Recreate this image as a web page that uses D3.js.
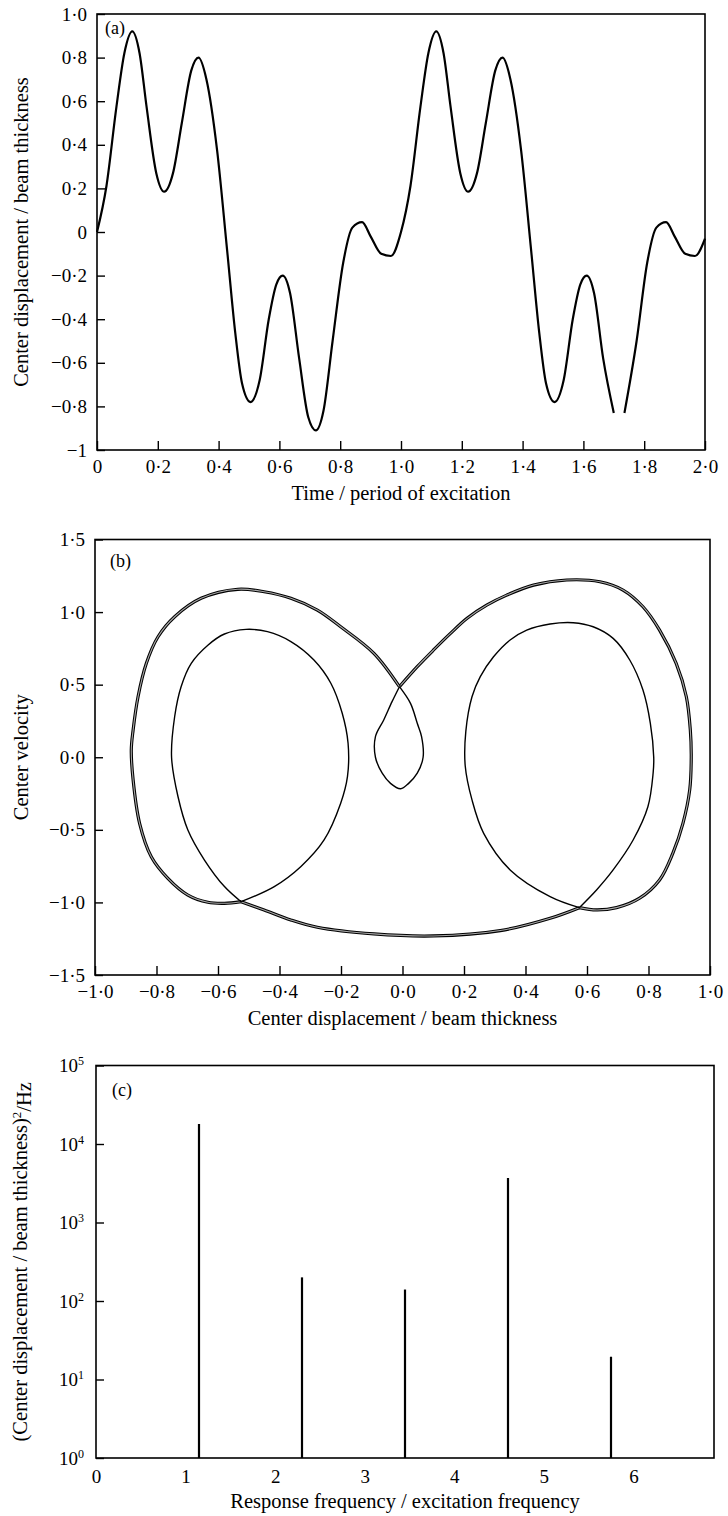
<!DOCTYPE html>
<html>
<head>
<meta charset="utf-8">
<script src="https://cdn.jsdelivr.net/npm/d3@7"></script>
<style>
  body { margin: 0; background: #fff; }
  svg { display: block; }
  text { font-family: "Liberation Serif", "Times New Roman", serif; fill: #000; }
</style>
</head>
<body>
<svg id="fig" width="728" height="1516"></svg>
<script>
// ---------- (a) centre displacement time history (two drawn pieces) ----------
const timeA1 = [0.000, 0.031, 0.064, 0.090, 0.116, 0.140, 0.163, 0.195, 0.221, 0.250, 0.279, 0.310, 0.334, 0.360, 0.395, 0.428, 0.455, 0.477, 0.505, 0.535, 0.565, 0.590, 0.611, 0.635, 0.665, 0.695, 0.720, 0.745, 0.775, 0.810, 0.840, 0.872, 0.900, 0.935, 0.967, 1.000,
                1.031, 1.064, 1.090, 1.116, 1.140, 1.163, 1.195, 1.221, 1.250, 1.279, 1.310, 1.334, 1.360, 1.395, 1.428, 1.455, 1.477, 1.505, 1.535, 1.565, 1.590, 1.611, 1.635, 1.665, 1.700];
const dispA1 = [0.00, 0.21, 0.575, 0.82, 0.92, 0.82, 0.575, 0.27, 0.185, 0.27, 0.50, 0.74, 0.80, 0.70, 0.376, -0.083, -0.465, -0.694, -0.78, -0.68, -0.40, -0.24, -0.20, -0.28, -0.58, -0.85, -0.91, -0.82, -0.50, -0.14, 0.02, 0.045, -0.02, -0.10, -0.11, 0.00,
                0.21, 0.575, 0.82, 0.92, 0.82, 0.575, 0.27, 0.185, 0.27, 0.50, 0.74, 0.80, 0.70, 0.376, -0.083, -0.465, -0.694, -0.78, -0.68, -0.40, -0.24, -0.20, -0.28, -0.58, -0.83];
const timeA2 = [1.735, 1.775, 1.810, 1.840, 1.872, 1.900, 1.935, 1.967, 2.000];
const dispA2 = [-0.83, -0.50, -0.14, 0.02, 0.045, -0.02, -0.10, -0.11, -0.03];

const xTicksA = [0, 0.2, 0.4, 0.6, 0.8, 1.0, 1.2, 1.4, 1.6, 1.8, 2.0];
const xLabelsA = ["0", "0·2", "0·4", "0·6", "0·8", "1·0", "1·2", "1·4", "1·6", "1·8", "2·0"];
const yTicksA = [1.0, 0.8, 0.6, 0.4, 0.2, 0, -0.2, -0.4, -0.6, -0.8, -1];
const yLabelsA = ["1·0", "0·8", "0·6", "0·4", "0·2", "0", "−0·2", "−0·4", "−0·6", "−0·8", "−1"];

// ---------- (b) phase plane: velocity against displacement ----------
const phaseOuterRight = [[-0.01,0.486],[0.048,0.624],[0.101,0.739],[0.156,0.853],[0.21,0.957],[0.275,1.049],[0.339,1.117],[0.426,1.186],[0.534,1.221],[0.642,1.209],[0.717,1.152],[0.782,1.037],[0.836,0.876],[0.89,0.647],[0.923,0.417],[0.936,0.188],[0.939,0.0],[0.934,-0.225],[0.912,-0.455],[0.879,-0.662],[0.836,-0.845],[0.771,-0.971],[0.696,-1.036],[0.631,-1.052],[0.575,-1.036]];
const phaseInnerRight = [[0.575,-1.036],[0.48,-0.96],[0.35,-0.776],[0.264,-0.524],[0.226,-0.294],[0.204,-0.06],[0.206,0.18],[0.226,0.417],[0.253,0.555],[0.296,0.692],[0.35,0.808],[0.404,0.876],[0.48,0.918],[0.555,0.927],[0.62,0.899],[0.685,0.819],[0.739,0.67],[0.782,0.463],[0.806,0.234],[0.817,0.0],[0.815,-0.11],[0.798,-0.341],[0.75,-0.57],[0.685,-0.776],[0.631,-0.914],[0.575,-1.036]];
const phaseOuterBottom = [[0.575,-1.036],[0.48,-1.109],[0.318,-1.194],[0.101,-1.231],[-0.093,-1.217],[-0.277,-1.171],[-0.363,-1.121],[-0.45,-1.052],[-0.525,-0.995]];
const phaseInnerLeft = [[-0.525,-0.995],[-0.579,-0.891],[-0.644,-0.708],[-0.698,-0.501],[-0.73,-0.272],[-0.751,0.0],[-0.741,0.279],[-0.72,0.486],[-0.687,0.647],[-0.633,0.772],[-0.579,0.849],[-0.509,0.881],[-0.439,0.865],[-0.363,0.797],[-0.288,0.67],[-0.233,0.51],[-0.196,0.303],[-0.177,0.096],[-0.179,-0.134],[-0.201,-0.317],[-0.255,-0.57],[-0.331,-0.754],[-0.417,-0.891],[-0.525,-0.995]];
const phaseOuterLeft = [[-0.525,-0.995],[-0.579,-1.006],[-0.633,-0.999],[-0.698,-0.949],[-0.763,-0.834],[-0.817,-0.685],[-0.855,-0.455],[-0.876,-0.157],[-0.882,0.05],[-0.876,0.188],[-0.86,0.417],[-0.833,0.647],[-0.795,0.83],[-0.741,0.968],[-0.655,1.095],[-0.536,1.157],[-0.45,1.14],[-0.363,1.095],[-0.277,1.014],[-0.201,0.899],[-0.093,0.716],[-0.01,0.486]];
const phaseCentreLoop = [[-0.01,0.486],[0.026,0.371],[0.048,0.234],[0.062,0.142],[0.067,0.0],[0.048,-0.11],[0.02,-0.18],[-0.006,-0.217],[-0.039,-0.18],[-0.066,-0.11],[-0.088,0.0],[-0.088,0.142],[-0.061,0.257],[-0.034,0.383],[-0.01,0.486]];

const xTicksB = [-1.0, -0.8, -0.6, -0.4, -0.2, 0.0, 0.2, 0.4, 0.6, 0.8, 1.0];
const xLabelsB = ["−1·0", "−0·8", "−0·6", "−0·4", "−0·2", "0·0", "0·2", "0·4", "0·6", "0·8", "1·0"];
const yTicksB = [1.5, 1.0, 0.5, 0.0, -0.5, -1.0, -1.5];
const yLabelsB = ["1·5", "1·0", "0·5", "0·0", "−0·5", "−1·0", "−1·5"];

// ---------- (c) response spectrum ----------
const specFreq = [1.15, 2.30, 3.45, 4.60, 5.75];
const specPower = [18000, 200, 140, 3700, 19.5];
const xTicksC = [0, 1, 2, 3, 4, 5, 6];
const yTicksC = [1, 10, 100, 1000, 10000, 100000];
const yExpC = ["0", "1", "2", "3", "4", "5"];

const svg = d3.select("#fig");
const FS = 19;      // tick labels
const FT = 20.5;    // axis titles

function frame(g, x0, x1, y0, y1) {
  g.append("rect").attr("x", x0).attr("y", y0).attr("width", x1 - x0).attr("height", y1 - y0)
    .attr("fill", "none").attr("stroke", "#000").attr("stroke-width", 1.6);
}
function styleAxis(sel) {
  sel.select(".domain").remove();
  sel.selectAll(".tick line").attr("stroke", "#000").attr("stroke-width", 1.4);
  sel.selectAll(".tick text").attr("font-size", FS).attr("fill", "#000")
     .attr("font-family", "Liberation Serif, Times New Roman, serif");
}

// ===== panel (a) =====
{
  const L = 97, R = 705, T = 14, B = 450;
  const x = d3.scaleLinear().domain([0, 2]).range([L, R]);
  const y = d3.scaleLinear().domain([-1, 1]).range([B, T]);
  const g = svg.append("g");
  frame(g, L, R, T, B);
  g.append("g").attr("transform", `translate(0,${B})`)
    .call(d3.axisBottom(x).tickValues(xTicksA).tickFormat((d, i) => xLabelsA[i]).tickSizeInner(-9).tickSizeOuter(0).tickPadding(10))
    .call(styleAxis);
  g.append("g").attr("transform", `translate(${L},0)`)
    .call(d3.axisLeft(y).tickValues(yTicksA).tickFormat((d, i) => yLabelsA[i]).tickSizeInner(-8).tickSizeOuter(0).tickPadding(10))
    .call(styleAxis);
  const line = d3.line().x(d => x(d[0])).y(d => y(d[1])).curve(d3.curveMonotoneX);
  [[timeA1, dispA1], [timeA2, dispA2]].forEach(([t, v]) => {
    g.append("path").datum(t.map((d, i) => [d, v[i]]))
      .attr("d", line).attr("fill", "none").attr("stroke", "#000").attr("stroke-width", 2.2)
      .attr("stroke-linejoin", "round");
  });
  g.append("text").attr("x", 105).attr("y", 34).attr("font-size", 18).text("(a)");
  g.append("text").attr("x", (L + R) / 2).attr("y", 500).attr("text-anchor", "middle").attr("font-size", FT)
    .text("Time / period of excitation");
  g.append("text").attr("transform", `translate(28,${(T + B) / 2}) rotate(-90)`).attr("text-anchor", "middle")
    .attr("font-size", FT).text("Center displacement / beam thickness");
}

// ===== panel (b) =====
{
  const L = 95, R = 710, T = 539.5, B = 975;
  const x = d3.scaleLinear().domain([-1, 1]).range([L, R]);
  const y = d3.scaleLinear().domain([-1.5, 1.5]).range([B, T]);
  const g = svg.append("g");
  frame(g, L, R, T, B);
  g.append("g").attr("transform", `translate(0,${B})`)
    .call(d3.axisBottom(x).tickValues(xTicksB).tickFormat((d, i) => xLabelsB[i]).tickSizeInner(-9).tickSizeOuter(0).tickPadding(10))
    .call(styleAxis);
  g.append("g").attr("transform", `translate(${L},0)`)
    .call(d3.axisLeft(y).tickValues(yTicksB).tickFormat((d, i) => yLabelsB[i]).tickSizeInner(-8).tickSizeOuter(0).tickPadding(10))
    .call(styleAxis);
  const line = d3.line().x(d => x(d[0])).y(d => y(d[1])).curve(d3.curveCatmullRom.alpha(0.5));
  // outer orbit: slightly spread bundle of cycles -> dark edges with a grey core
  [phaseOuterRight, phaseOuterBottom, phaseOuterLeft].forEach(seg => {
    g.append("path").datum(seg).attr("d", line).attr("fill", "none").attr("stroke", "#000").attr("stroke-width", 3.2);
    g.append("path").datum(seg).attr("d", line).attr("fill", "none").attr("stroke", "#a8a8a8").attr("stroke-width", 1.1);
  });
  [phaseInnerRight, phaseInnerLeft, phaseCentreLoop].forEach(seg => {
    g.append("path").datum(seg).attr("d", line).attr("fill", "none").attr("stroke", "#000").attr("stroke-width", 1.4);
  });
  g.append("text").attr("x", 110).attr("y", 567).attr("font-size", 18).text("(b)");
  g.append("text").attr("x", (L + R) / 2).attr("y", 1025).attr("text-anchor", "middle").attr("font-size", FT)
    .text("Center displacement / beam thickness");
  g.append("text").attr("transform", `translate(28,${(T + B) / 2}) rotate(-90)`).attr("text-anchor", "middle")
    .attr("font-size", FT).text("Center velocity");
}

// ===== panel (c) =====
{
  const L = 96, R = 714, T = 1065.5, B = 1458;
  const x = d3.scaleLinear().domain([0, 6.9]).range([L, R]);
  const y = d3.scaleLog().domain([1, 1e5]).range([B, T]);
  const g = svg.append("g");
  frame(g, L, R, T, B);
  g.append("g").attr("transform", `translate(0,${B})`)
    .call(d3.axisBottom(x).tickValues(xTicksC).tickFormat(d3.format("d")).tickSize(0).tickPadding(12))
    .call(styleAxis);
  const ya = g.append("g").attr("transform", `translate(${L},0)`)
    .call(d3.axisLeft(y).tickValues(yTicksC).tickFormat(() => "10").tickSizeInner(-8).tickSizeOuter(0).tickPadding(12))
    .call(styleAxis);
  ya.selectAll(".tick text").each(function (d, i) {
    d3.select(this).append("tspan").attr("dy", "-0.55em").attr("font-size", 12).text(yExpC[i]);
  });
  g.selectAll("line.bar").data(specFreq).join("line").attr("class", "bar")
    .attr("x1", d => x(d)).attr("x2", d => x(d))
    .attr("y1", y(1)).attr("y2", (d, i) => y(specPower[i]))
    .attr("stroke", "#000").attr("stroke-width", 2.2);
  g.append("text").attr("x", 112).attr("y", 1096).attr("font-size", 18).text("(c)");
  g.append("text").attr("x", (L + R) / 2).attr("y", 1508).attr("text-anchor", "middle").attr("font-size", FT)
    .text("Response frequency / excitation frequency");
  const yl = g.append("text").attr("transform", `translate(27,${(T + B) / 2}) rotate(-90)`).attr("text-anchor", "middle")
    .attr("font-size", FT);
  yl.append("tspan").text("(Center displacement / beam thickness)");
  yl.append("tspan").attr("dy", "-0.5em").attr("font-size", 13).text("2");
  yl.append("tspan").attr("dy", "0.5em").text("/Hz");
}
</script>
</body>
</html>
